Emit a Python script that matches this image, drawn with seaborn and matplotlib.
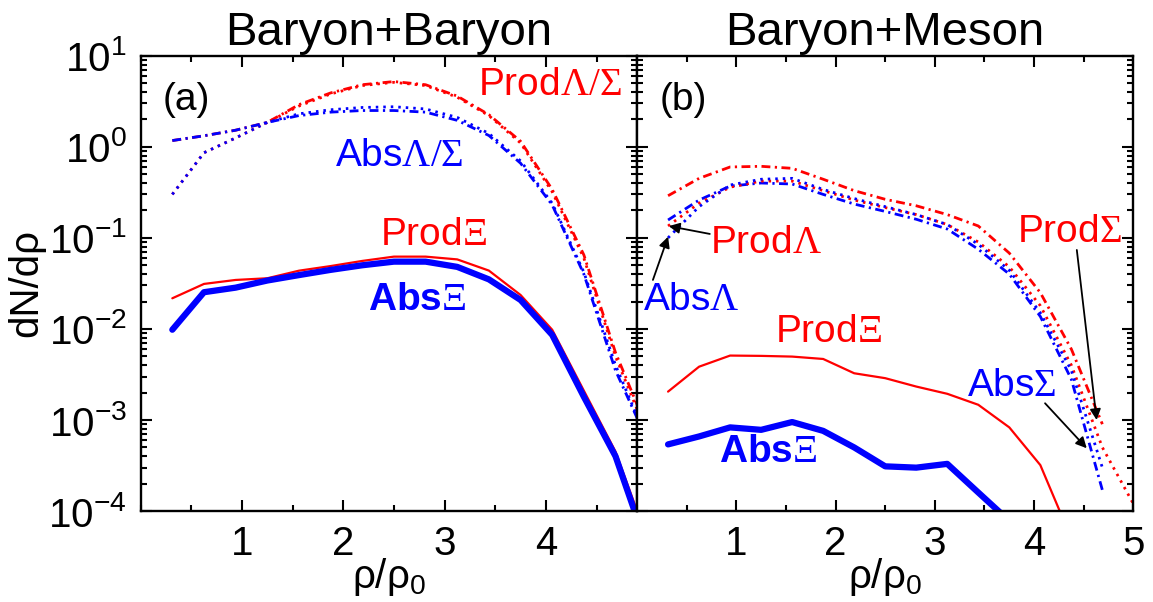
import numpy as np
import pandas as pd
import matplotlib
matplotlib.use("Agg")
import matplotlib.pyplot as plt
import matplotlib.ticker as mticker
import seaborn as sns

# density bins (rho/rho0)
rho = [0.3125, 0.625, 0.9375, 1.25, 1.5625, 1.875, 2.1875, 2.5,
       2.8125, 3.125, 3.4375, 3.75, 4.0625, 4.375, 4.6875, 5.0]

# (a) baryon + baryon
bb_prod_lam = [1.17, 1.32, 1.52, 1.85, 2.9, 3.9, 4.8, 5.2, 4.8, 3.6, 2.25, 1.15, 0.34, 0.065, 0.0055, 0.0008]
bb_prod_sig = [0.30, 0.86, 1.25, 1.85, 2.8, 3.8, 4.7, 5.1, 4.7, 3.5, 2.2, 1.1, 0.32, 0.06, 0.005, 0.0007]
bb_abs_lam = [1.17, 1.32, 1.52, 1.85, 2.2, 2.4, 2.5, 2.5, 2.4, 1.95, 1.33, 0.66, 0.23, 0.04, 0.0035, 0.0006]
bb_abs_sig = [0.30, 0.86, 1.25, 1.85, 2.3, 2.55, 2.7, 2.75, 2.6, 2.1, 1.4, 0.7, 0.24, 0.042, 0.004, 0.0006]
bb_prod_xi = [0.0217, 0.0312, 0.0345, 0.036, 0.0436, 0.049, 0.0558, 0.0622, 0.0622, 0.058, 0.0437, 0.0236, 0.0098, 0.0021, 0.00045, 0.00005]
bb_abs_xi = [0.0098, 0.0253, 0.0284, 0.034, 0.039, 0.0445, 0.050, 0.0548, 0.0548, 0.048, 0.035, 0.0208, 0.0086, 0.0018, 0.0004, 0.00004]

# (b) baryon + meson
bm_prod_sig = [0.29, 0.45, 0.60, 0.61, 0.58, 0.44, 0.33, 0.265, 0.225, 0.18, 0.135, 0.068, 0.025, 0.006, 0.0009, np.nan]
bm_abs_sig = [0.157, 0.26, 0.37, 0.40, 0.39, 0.30, 0.235, 0.195, 0.16, 0.125, 0.075, 0.04, 0.0137, 0.0028, 0.00017, np.nan]
bm_prod_lam = [0.135, 0.24, 0.36, 0.42, 0.42, 0.33, 0.26, 0.215, 0.18, 0.14, 0.09, 0.048, 0.018, 0.004, 0.0005, 0.00012]
bm_abs_lam = [0.10, 0.22, 0.38, 0.44, 0.45, 0.34, 0.27, 0.22, 0.18, 0.14, 0.085, 0.044, 0.015, 0.0035, 0.0003, np.nan]
bm_prod_xi = [0.00205, 0.00385, 0.0051, 0.00506, 0.00497, 0.00468, 0.00326, 0.00288, 0.00233, 0.00194, 0.00147, 0.00083, 0.00032, 0.00005, np.nan, np.nan]
bm_abs_xi = [0.00054, 0.00066, 0.00083, 0.00078, 0.00095, 0.00076, 0.0005, 0.00031, 0.0003, 0.00033, 0.00016, 0.000078, np.nan, np.nan, np.nan, np.nan]

RED = "#ff0000"
BLUE = "#0000ff"
DASHDOT = (0, (3.2, 1.6, 0.8, 1.6))
DOTTED = (0, (0.9, 1.8))

sns.set_style("ticks")
plt.rcParams["font.family"] = ["Liberation Sans", "DejaVu Sans"]
plt.rcParams["mathtext.fontset"] = "custom"
plt.rcParams["mathtext.rm"] = "Liberation Serif"
plt.rcParams["mathtext.sf"] = "Liberation Sans"
plt.rcParams["mathtext.bf"] = "Liberation Sans:bold"
plt.rcParams["axes.linewidth"] = 1.7
for key in ["text.color", "axes.labelcolor", "xtick.color", "ytick.color", "axes.edgecolor"]:
    plt.rcParams[key] = "black"


def draw(ax, y, color, lw, ls):
    df = pd.DataFrame({"rho": rho, "dn": y}).dropna()
    sns.lineplot(data=df, x="rho", y="dn", ax=ax, color=color, lw=lw,
                 linestyle=ls, estimator=None, sort=False)


fig, (ax1, ax2) = plt.subplots(1, 2, sharey=True, figsize=(11.53, 6.02), dpi=100)
fig.subplots_adjust(left=0.122, right=0.983, bottom=0.151, top=0.9075, wspace=0)

for ax in (ax1, ax2):
    ax.set_yscale("log")

# panel (a)
draw(ax1, bb_prod_lam, RED, 2.0, DASHDOT)
draw(ax1, bb_prod_sig, RED, 2.0, DOTTED)
draw(ax1, bb_abs_lam, BLUE, 2.0, DASHDOT)
draw(ax1, bb_abs_sig, BLUE, 2.0, DOTTED)
draw(ax1, bb_prod_xi, RED, 1.6, "-")
draw(ax1, bb_abs_xi, BLUE, 4.5, "-")

# panel (b)
draw(ax2, bm_prod_sig, RED, 2.0, DASHDOT)
draw(ax2, bm_abs_sig, BLUE, 2.0, DASHDOT)
draw(ax2, bm_prod_lam, RED, 2.0, DOTTED)
draw(ax2, bm_abs_lam, BLUE, 2.0, DOTTED)
draw(ax2, bm_prod_xi, RED, 1.6, "-")
draw(ax2, bm_abs_xi, BLUE, 4.5, "-")

ax1.set_xlim(0, 4.9)
ax2.set_xlim(0, 5.0)
ax1.set_ylim(1e-4, 10)
ax1.set_xticks([1, 2, 3, 4])
ax2.set_xticks([1, 2, 3, 4, 5])

for ax in (ax1, ax2):
    ax.xaxis.set_minor_locator(mticker.MultipleLocator(0.5))
    ax.yaxis.set_major_locator(mticker.LogLocator(base=10, numticks=10))
    ax.yaxis.set_minor_locator(mticker.LogLocator(base=10, subs=np.arange(2, 10), numticks=20))
    ax.tick_params(which="both", direction="in", top=True, right=True, width=1.5)
    ax.tick_params(which="major", length=8, labelsize=29, pad=10)
    ax.tick_params(which="minor", length=4.5)
    ax.set_xlabel(r"ρ/ρ$_{\mathsf{0}}$", fontsize=29, labelpad=-5)
    ax.set_ylabel("")
ax2.tick_params(axis="y", which="both", labelleft=False)

ax1.set_ylabel("dN/dρ", fontsize=29, labelpad=2)
ax1.set_title("Baryon+Baryon", fontsize=34, pad=8)
ax2.set_title("Baryon+Meson", fontsize=34, pad=8)

fs = 28
ax1.text(0.22, 3.3, "(a)", fontsize=fs, ha="left", va="center")
ax1.text(3.33, 4.8, r"$\mathsf{Prod}\mathrm{\Lambda/\Sigma}$", color=RED, fontsize=fs, ha="left", va="center")
ax1.text(1.92, 0.8, r"$\mathsf{Abs}\mathrm{\Lambda/\Sigma}$", color=BLUE, fontsize=fs, ha="left", va="center")
ax1.text(2.36, 0.108, r"$\mathsf{Prod}\mathrm{\Xi}$", color=RED, fontsize=fs, ha="left", va="center")
ax1.text(2.24, 0.021, r"$\mathbf{Abs}\mathrm{\Xi}$", color=BLUE, fontsize=fs, ha="left", va="center")

ax2.text(0.23, 3.3, "(b)", fontsize=fs, ha="left", va="center")
ax2.text(0.74, 0.088, r"$\mathsf{Prod}\mathrm{\Lambda}$", color=RED, fontsize=fs, ha="left", va="center")
ax2.text(0.06, 0.021, r"$\mathsf{Abs}\mathrm{\Lambda}$", color=BLUE, fontsize=fs, ha="left", va="center")
ax2.text(1.39, 0.0093, r"$\mathsf{Prod}\mathrm{\Xi}$", color=RED, fontsize=fs, ha="left", va="center")
ax2.text(0.83, 0.00044, r"$\mathbf{Abs}\mathrm{\Xi}$", color=BLUE, fontsize=fs, ha="left", va="center")
ax2.text(3.32, 0.00237, r"$\mathsf{Abs}\mathrm{\Sigma}$", color=BLUE, fontsize=fs, ha="left", va="center")
ax2.text(3.83, 0.116, r"$\mathsf{Prod}\mathrm{\Sigma}$", color=RED, fontsize=fs, ha="left", va="center")

arrow = dict(arrowstyle="-|>", color="black", lw=1.3, mutation_scale=16, shrinkA=0, shrinkB=0)
ax2.annotate("", xy=(0.32, 10 ** -0.871), xytext=(0.733, 10 ** -0.957), arrowprops=arrow)
ax2.annotate("", xy=(0.313, 10 ** -0.987), xytext=(0.16, 10 ** -1.462), arrowprops=arrow)
ax2.annotate("", xy=(4.53, 10 ** -3.31), xytext=(4.11, 10 ** -2.816), arrowprops=arrow)
ax2.annotate("", xy=(4.63, 10 ** -3.0), xytext=(4.43, 10 ** -1.133), arrowprops=arrow)

fig.savefig("out.png", dpi=100)
